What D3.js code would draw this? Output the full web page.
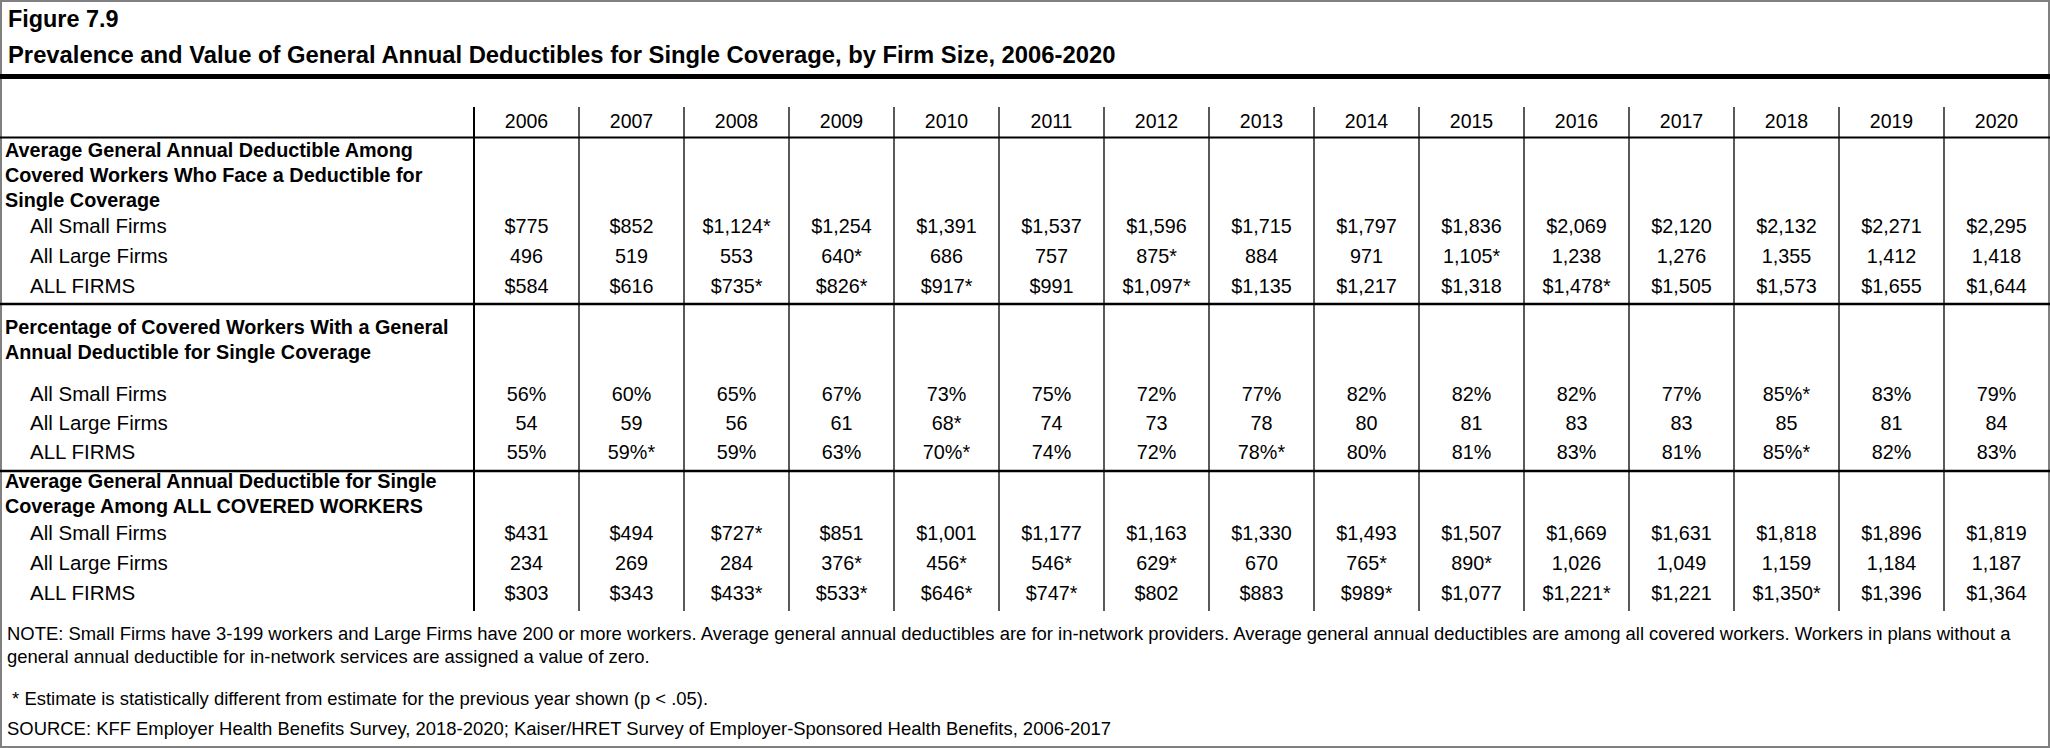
<!DOCTYPE html>
<html>
<head>
<meta charset="utf-8">
<script src="https://cdn.jsdelivr.net/npm/d3@7"></script>
<style>
  html, body { margin: 0; padding: 0; background: #fff; }
  svg { display: block; }
  text { font-family: "Liberation Sans", Arial, Helvetica, sans-serif; fill: #000; }
</style>
</head>
<body>
<svg id="chart"></svg>
<script>
// ---- data ----
const years = [2006, 2007, 2008, 2009, 2010, 2011, 2012, 2013, 2014, 2015, 2016, 2017, 2018, 2019, 2020];
const rowLabels = ["All Small Firms", "All Large Firms", "ALL FIRMS"];

// avg deductible among covered workers who face a deductible
const dedSmall = [775, 852, 1124, 1254, 1391, 1537, 1596, 1715, 1797, 1836, 2069, 2120, 2132, 2271, 2295];
const dedLarge = [496, 519, 553, 640, 686, 757, 875, 884, 971, 1105, 1238, 1276, 1355, 1412, 1418];
const dedAll   = [584, 616, 735, 826, 917, 991, 1097, 1135, 1217, 1318, 1478, 1505, 1573, 1655, 1644];

// % of covered workers with a deductible
const pctSmall = [56, 60, 65, 67, 73, 75, 72, 77, 82, 82, 82, 77, 85, 83, 79];
const pctLarge = [54, 59, 56, 61, 68, 74, 73, 78, 80, 81, 83, 83, 85, 81, 84];
const pctAll   = [55, 59, 59, 63, 70, 74, 72, 78, 80, 81, 83, 81, 85, 82, 83];

// avg deductible among ALL covered workers
const allSmall = [431, 494, 727, 851, 1001, 1177, 1163, 1330, 1493, 1507, 1669, 1631, 1818, 1896, 1819];
const allLarge = [234, 269, 284, 376, 456, 546, 629, 670, 765, 890, 1026, 1049, 1159, 1184, 1187];
const allAll   = [303, 343, 433, 533, 646, 747, 802, 883, 989, 1077, 1221, 1221, 1350, 1396, 1364];

// years flagged with * (significant change from previous year)
const sigDedSmall = [2008];
const sigDedLarge = [2009, 2012, 2015];
const sigDedAll   = [2008, 2009, 2010, 2012, 2016];
const sigPctSmall = [2018];
const sigPctLarge = [2010];
const sigPctAll   = [2007, 2010, 2013, 2018];
const sigAllSmall = [2008];
const sigAllLarge = [2009, 2010, 2011, 2012, 2014, 2015];
const sigAllAll   = [2008, 2009, 2010, 2011, 2014, 2016, 2018];

const sectionTitles = [
  ["Average General Annual Deductible Among", "Covered Workers Who Face a Deductible for", "Single Coverage"],
  ["Percentage of Covered Workers With a General", "Annual Deductible for Single Coverage"],
  ["Average General Annual Deductible for Single", "Coverage Among ALL COVERED WORKERS"]
];

const noteLines = [
  "NOTE: Small Firms have 3-199 workers and Large Firms have 200 or more workers. Average general annual deductibles are for in-network providers. Average general annual deductibles are among all covered workers. Workers in plans without a",
  "general annual deductible for in-network services are assigned a value of zero."
];
const starNote = " * Estimate is statistically different from estimate for the previous year shown (p < .05).";
const sourceNote = "SOURCE: KFF Employer Health Benefits Survey, 2018-2020; Kaiser/HRET Survey of Employer-Sponsored Health Benefits, 2006-2017";

// ---- build table ----
const dollar = d3.format("$,");
const comma = d3.format(",");
const pct = v => v + "%";
const plain = v => String(v);

const sections = [
  { rows: [
      { values: dedSmall, sig: sigDedSmall, fmt: dollar },
      { values: dedLarge, sig: sigDedLarge, fmt: comma },
      { values: dedAll,   sig: sigDedAll,   fmt: dollar } ] },
  { rows: [
      { values: pctSmall, sig: sigPctSmall, fmt: pct },
      { values: pctLarge, sig: sigPctLarge, fmt: plain },
      { values: pctAll,   sig: sigPctAll,   fmt: pct } ] },
  { rows: [
      { values: allSmall, sig: sigAllSmall, fmt: dollar },
      { values: allLarge, sig: sigAllLarge, fmt: comma },
      { values: allAll,   sig: sigAllAll,   fmt: dollar } ] }
];
sections.forEach((s, i) => s.title = sectionTitles[i]);

// ---- layout ----
const WIDTH = 2050;
const HEIGHT = 748;
const LABEL_COL = 474;
const TABLE_TOP = 107;
const TABLE_BOTTOM = 611;
const HEADER_LINE = 137.5;

// per-section vertical geometry (top rule, label baselines, row baselines)
const geom = [
  { top: HEADER_LINE, label0: 157, labelStep: 25, row0: 233, rowStep: 30 },
  { top: 304, label0: 334, labelStep: 25, row0: 401, rowStep: 29 },
  { top: 471, label0: 488, labelStep: 25, row0: 540, rowStep: 30 }
];

const svg = d3.select("#chart").attr("width", WIDTH).attr("height", HEIGHT);

svg.append("rect")
  .attr("x", 1).attr("y", 1)
  .attr("width", WIDTH - 2).attr("height", HEIGHT - 2)
  .attr("fill", "#fff").attr("stroke", "#808080").attr("stroke-width", 2);

svg.append("text")
  .attr("x", 8).attr("y", 27)
  .attr("font-size", "23.4px").attr("font-weight", "bold")
  .text("Figure 7.9");

svg.append("text")
  .attr("x", 8).attr("y", 63)
  .attr("font-size", "23.8px").attr("font-weight", "bold")
  .text("Prevalence and Value of General Annual Deductibles for Single Coverage, by Firm Size, 2006-2020");

svg.append("line")
  .attr("x1", 0).attr("x2", WIDTH)
  .attr("y1", 76.5).attr("y2", 76.5)
  .attr("stroke", "#000").attr("stroke-width", 5);

const xScale = d3.scaleBand()
  .domain(years)
  .range([LABEL_COL, WIDTH - 1])
  .paddingInner(0).paddingOuter(0);

// column rules
const grid = svg.append("g").attr("class", "grid");
grid.selectAll("line.col")
  .data(years.slice(1))
  .join("line")
    .attr("class", "col")
    .attr("x1", d => xScale(d)).attr("x2", d => xScale(d))
    .attr("y1", TABLE_TOP).attr("y2", TABLE_BOTTOM)
    .attr("stroke", "#000").attr("stroke-width", 1.3);

grid.append("line")
  .attr("x1", LABEL_COL).attr("x2", LABEL_COL)
  .attr("y1", TABLE_TOP).attr("y2", TABLE_BOTTOM)
  .attr("stroke", "#000").attr("stroke-width", 2);

// row rules: header bottom and section separators
grid.selectAll("line.row")
  .data(geom.map(g => g.top))
  .join("line")
    .attr("class", "row")
    .attr("x1", 0).attr("x2", WIDTH)
    .attr("y1", d => d).attr("y2", d => d)
    .attr("stroke", "#000").attr("stroke-width", (d, i) => i === 0 ? 2.2 : 2.6);

// header years
svg.append("g")
  .selectAll("text")
  .data(years)
  .join("text")
    .attr("x", d => xScale(d) + xScale.bandwidth() / 2)
    .attr("y", 128)
    .attr("text-anchor", "middle")
    .attr("font-size", "19.5px")
    .text(d => d);

// sections
sections.forEach((sec, si) => {
  const g = geom[si];
  const yRow = d3.scalePoint()
    .domain(rowLabels)
    .range([g.row0, g.row0 + g.rowStep * (rowLabels.length - 1)]);

  const grp = svg.append("g").attr("class", "section");

  grp.selectAll("text.title")
    .data(sec.title)
    .join("text")
      .attr("class", "title")
      .attr("x", 5)
      .attr("y", (d, i) => g.label0 + i * g.labelStep)
      .attr("font-size", "19.8px").attr("font-weight", "bold")
      .text(d => d);

  grp.selectAll("text.rowlabel")
    .data(rowLabels)
    .join("text")
      .attr("class", "rowlabel")
      .attr("x", 30)
      .attr("y", d => yRow(d))
      .attr("font-size", "20.5px")
      .text(d => d);

  sec.rows.forEach((row, ri) => {
    grp.append("g")
      .selectAll("text")
      .data(years.map((yr, i) => ({ yr, v: row.values[i], star: row.sig.includes(yr) })))
      .join("text")
        .attr("x", d => xScale(d.yr) + xScale.bandwidth() / 2)
        .attr("y", yRow(rowLabels[ri]))
        .attr("text-anchor", "middle")
        .attr("font-size", "19.8px")
        .text(d => row.fmt(d.v) + (d.star ? "*" : ""));
  });
});

// notes
const notes = svg.append("g").attr("font-size", "18.45px");
notes.selectAll("text.note")
  .data(noteLines)
  .join("text")
    .attr("class", "note")
    .attr("x", 7)
    .attr("y", (d, i) => 640 + i * 23)
    .text(d => d);

notes.append("text")
  .attr("x", 7).attr("y", 705)
  .attr("xml:space", "preserve")
  .style("white-space", "pre")
  .text(starNote);

notes.append("text")
  .attr("x", 7).attr("y", 735)
  .text(sourceNote);
</script>
</body>
</html>
